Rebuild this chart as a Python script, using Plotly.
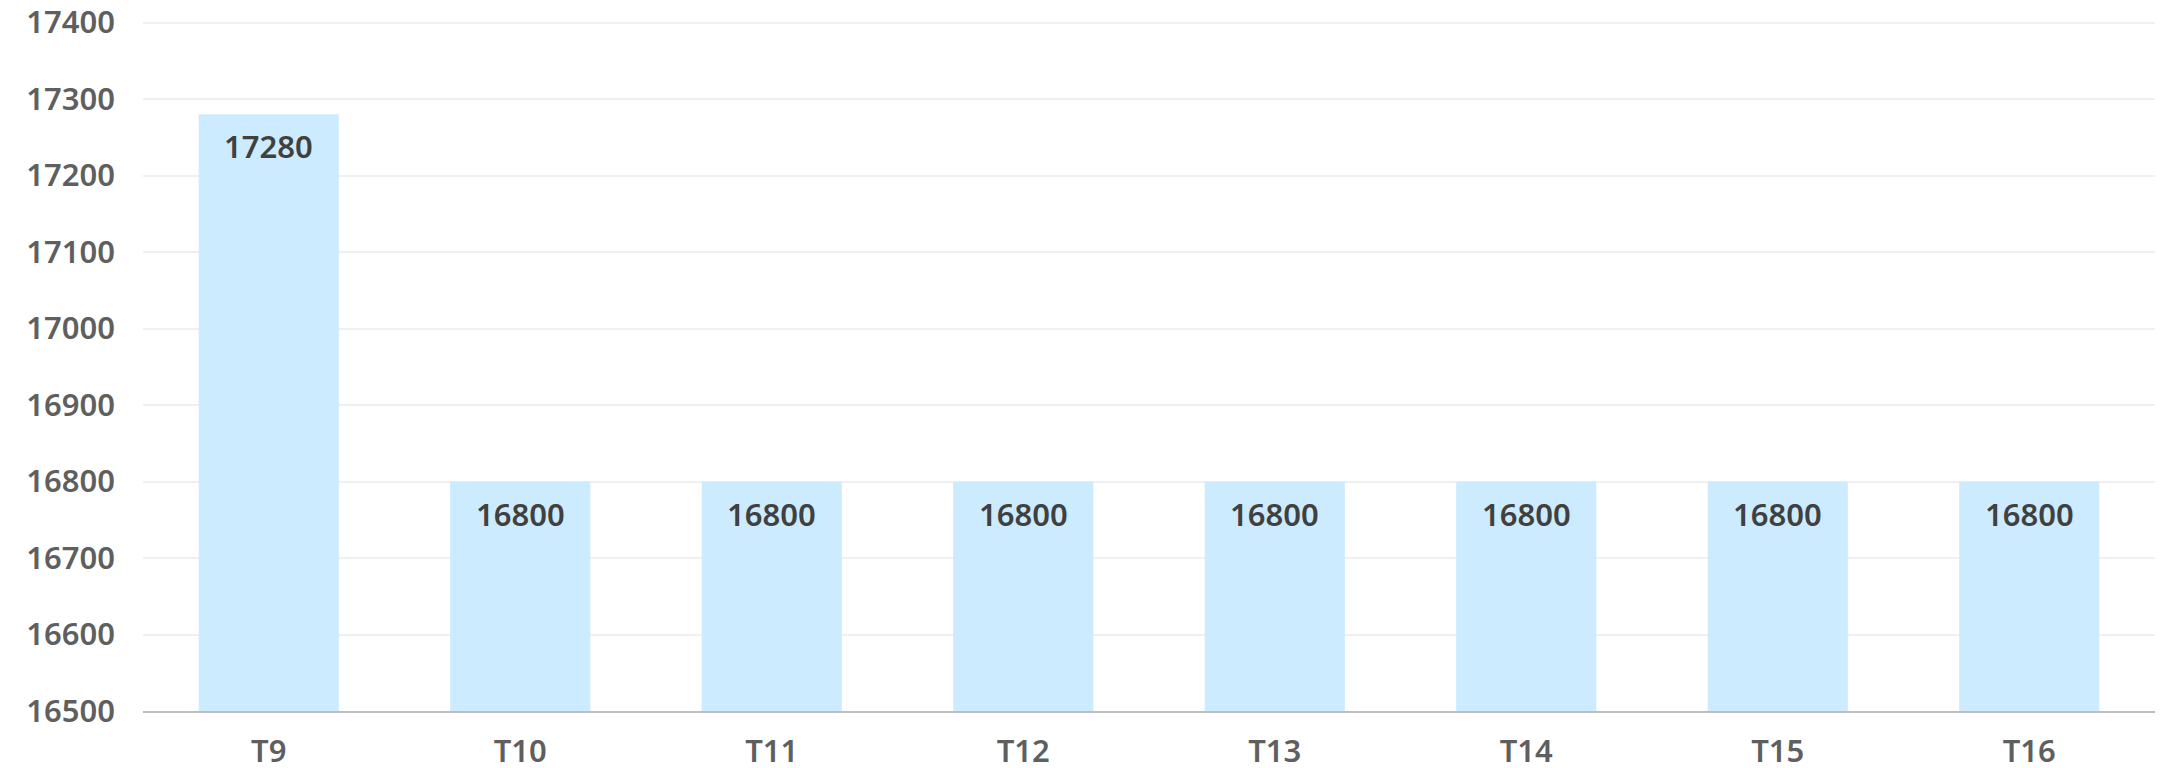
import plotly.graph_objects as go

categories = ["T9", "T10", "T11", "T12", "T13", "T14", "T15", "T16"]
values = [17280, 16800, 16800, 16800, 16800, 16800, 16800, 16800]
y_ticks = [16500, 16600, 16700, 16800, 16900, 17000, 17100, 17200, 17300, 17400]
y_tick_labels = [str(v) for v in y_ticks]

FONT = "Noto Sans"
FS = 31

fig = go.Figure(go.Bar(
    x=categories,
    y=values,
    marker=dict(color="#CCEBFE", line=dict(width=0)),
    width=0.557,
    hoverinfo="x+y",
))

for c, v in zip(categories, values):
    fig.add_annotation(
        x=c, y=v, xref="x", yref="y",
        text=str(v), showarrow=False,
        yanchor="middle", xanchor="center", yshift=-32,
        font=dict(family=FONT, size=FS, color="#404040", weight=600),
    )

fig.update_layout(
    width=2167, height=768,
    margin=dict(l=135, r=20, t=13, b=65, autoexpand=False),
    paper_bgcolor="white",
    plot_bgcolor="white",
    showlegend=False,
    font=dict(family=FONT, size=FS, color="#5f5f5f"),
)
fig.update_yaxes(
    range=[16500, 17402],
    tickvals=y_ticks,
    ticktext=y_tick_labels,
    automargin=False,
    ticklabeloverflow="allow",
    showgrid=True, gridcolor="#f0f0f0", gridwidth=2,
    zeroline=False, showline=False,
    ticklabelstandoff=27,
    tickfont=dict(family=FONT, size=FS, color="#5f5f5f", weight=600),
)
fig.update_xaxes(
    automargin=False,
    ticklabeloverflow="allow",
    showgrid=False,
    showline=True, linecolor="#bdbdbd", linewidth=2,
    ticklabelstandoff=12,
    tickfont=dict(family=FONT, size=FS, color="#5f5f5f", weight=600),
)

fig.write_html("out.html")
